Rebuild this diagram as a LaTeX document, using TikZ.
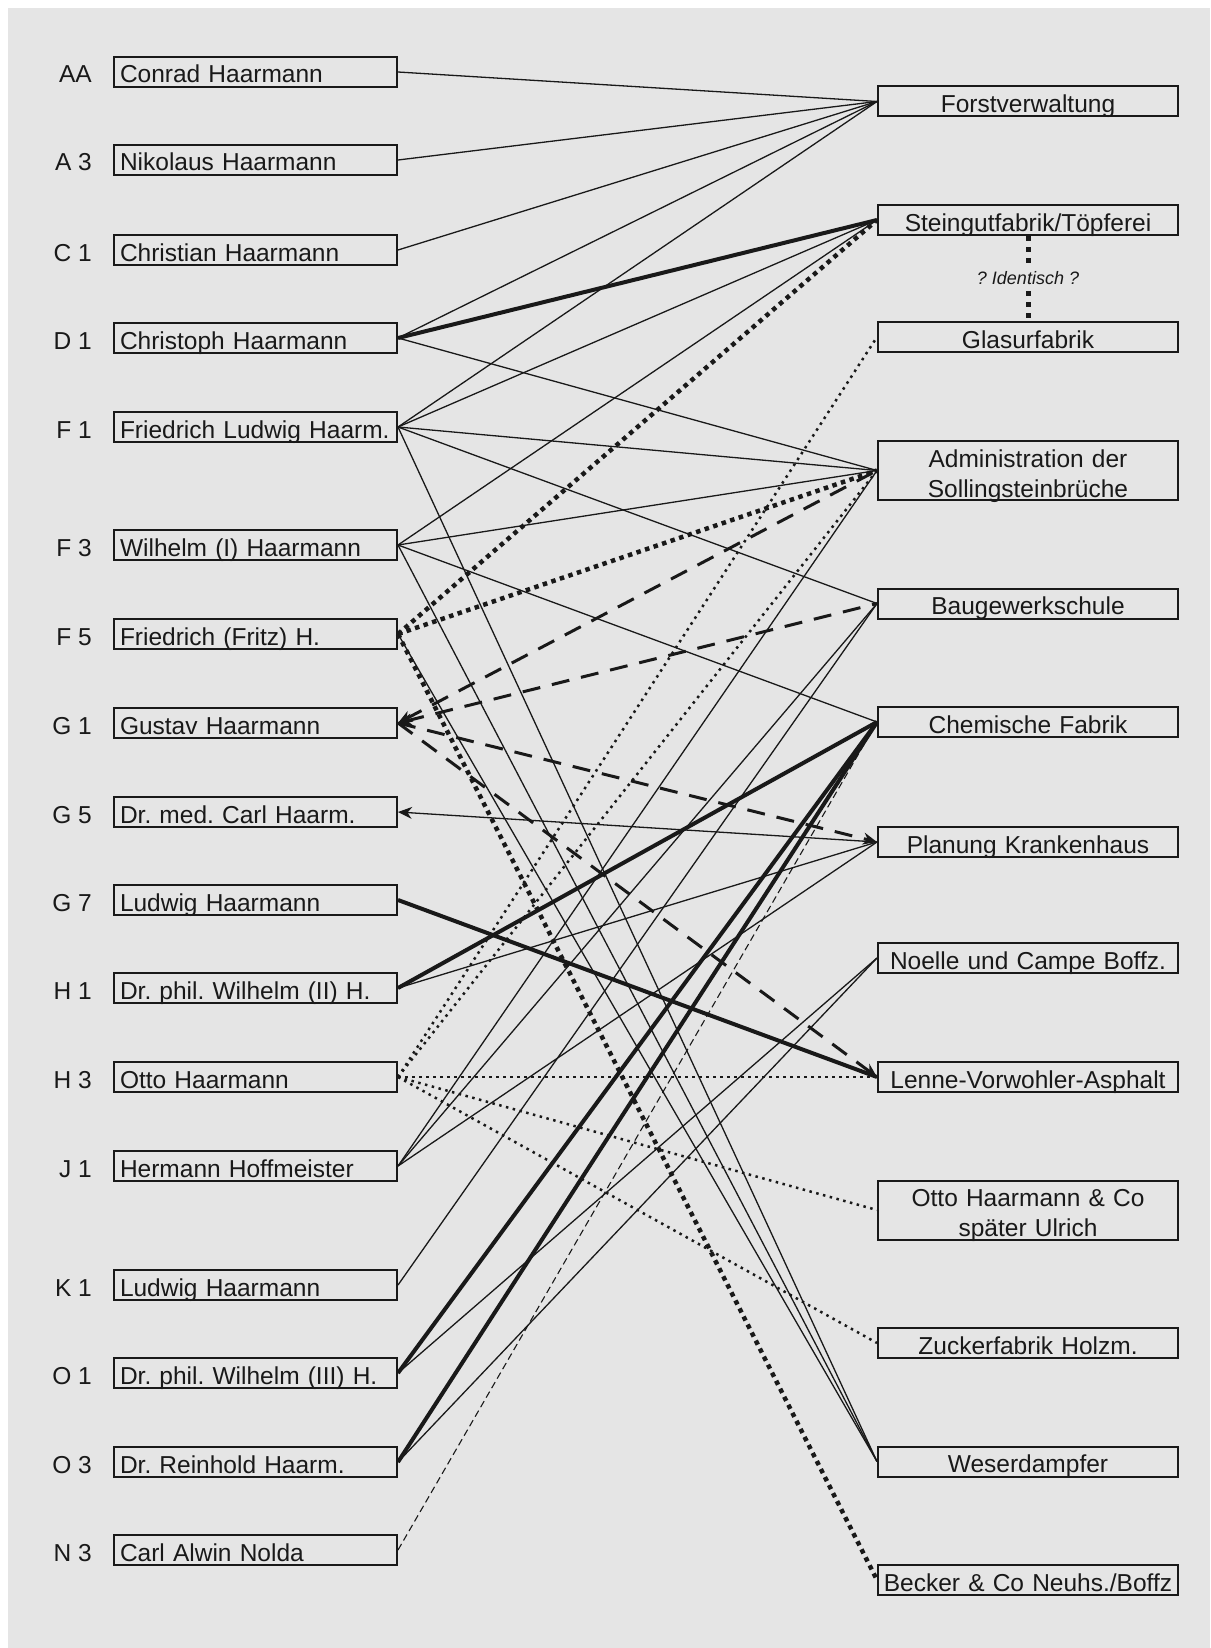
\documentclass[tikz,border=0pt]{standalone}
\usepackage{fontspec}
\setmainfont{Liberation Sans}
\frenchspacing
\usetikzlibrary{positioning,arrows.meta}
\definecolor{paper}{gray}{0.9}
\definecolor{ink}{gray}{0.1}
\tikzset{
  person/.style  = {rectangle, draw=ink, line width=2pt, text=ink,
                    text width=271pt, align=left, inner xsep=6pt, inner ysep=2pt,
                    text height=24pt, text depth=2pt, anchor=west,
                    font=\fontsize{24.5}{30}\selectfont},
  firm/.style    = {rectangle, draw=ink, line width=2pt, text=ink,
                    text width=292pt, align=center, inner xsep=4pt, inner ysep=2pt,
                    text height=24pt, text depth=2pt, anchor=west,
                    font=\fontsize{24.5}{30}\selectfont},
  twoline/.style = {text depth=31pt},
  code/.style    = {text=ink, inner sep=0pt, anchor=base east,
                    font=\fontsize{24.5}{30}\selectfont},
  idtag/.style   = {fill=paper, text=ink, inner sep=3pt,
                    font=\fontsize{18}{20}\selectfont\itshape},
  link/.style    = {draw=ink, line width=1.3pt},
  strong/.style  = {draw=ink, line width=4pt},
  fatdots/.style = {draw=ink, line width=4.5pt, dash pattern=on 4.5pt off 4.5pt},
  dots/.style    = {draw=ink, line width=2.5pt, dash pattern=on 2.5pt off 4.5pt},
  iddots/.style  = {draw=ink, line width=5pt, dash pattern=on 5pt off 6pt},
  dashlink/.style= {draw=ink, line width=3pt, dash pattern=on 18pt off 12pt},
  hairdash/.style= {draw=ink, line width=1.1pt, dash pattern=on 7pt off 4pt},
  tip/.style     = {-{Stealth[length=14pt,width=12pt]}},
  tipback/.style = {{Stealth[length=14pt,width=12pt]}-},
}

\begin{document}
\begin{tikzpicture}[x=1pt, y=-1pt]
  \useasboundingbox (0,0) rectangle (1210,1648);
  \fill[white] (0,0) rectangle (1210,1648);
  \fill[paper] (8,8) rectangle (1210,1648);

  % persons
  \node[person] (conrad)      at (113,72)   {Conrad Haarmann};
  \node[person] (nikolaus)    at (113,160)  {Nikolaus Haarmann};
  \node[person] (christian)   at (113,250)  {Christian Haarmann};
  \node[person] (christoph)   at (113,338)  {Christoph Haarmann};
  \node[person] (fludwig)     at (113,427)  {Friedrich Ludwig Haarm.};
  \node[person] (wilhelmI)    at (113,545)  {Wilhelm (I) Haarmann};
  \node[person] (fritz)       at (113,634)  {Friedrich (Fritz) H.};
  \node[person] (gustav)      at (113,723)  {Gustav Haarmann};
  \node[person] (carl)        at (113,812)  {Dr. med. Carl Haarm.};
  \node[person] (ludwigG)     at (113,900)  {Ludwig Haarmann};
  \node[person] (wilhelmII)   at (113,988)  {Dr. phil. Wilhelm (II) H.};
  \node[person] (otto)        at (113,1077) {Otto Haarmann};
  \node[person] (hoffmeister) at (113,1166) {Hermann Hoffmeister};
  \node[person] (ludwigK)     at (113,1285) {Ludwig Haarmann};
  \node[person] (wilhelmIII)  at (113,1373) {Dr. phil. Wilhelm (III) H.};
  \node[person] (reinhold)    at (113,1462) {Dr. Reinhold Haarm.};
  \node[person] (nolda)       at (113,1550) {Carl Alwin Nolda};

  \node[code] at ([xshift=-21pt]conrad.base west)      {AA};
  \node[code] at ([xshift=-21pt]nikolaus.base west)    {A 3};
  \node[code] at ([xshift=-21pt]christian.base west)   {C 1};
  \node[code] at ([xshift=-21pt]christoph.base west)   {D 1};
  \node[code] at ([xshift=-21pt]fludwig.base west)     {F 1};
  \node[code] at ([xshift=-21pt]wilhelmI.base west)    {F 3};
  \node[code] at ([xshift=-21pt]fritz.base west)       {F 5};
  \node[code] at ([xshift=-21pt]gustav.base west)      {G 1};
  \node[code] at ([xshift=-21pt]carl.base west)        {G 5};
  \node[code] at ([xshift=-21pt]ludwigG.base west)     {G 7};
  \node[code] at ([xshift=-21pt]wilhelmII.base west)   {H 1};
  \node[code] at ([xshift=-21pt]otto.base west)        {H 3};
  \node[code] at ([xshift=-21pt]hoffmeister.base west) {J 1};
  \node[code] at ([xshift=-21pt]ludwigK.base west)     {K 1};
  \node[code] at ([xshift=-21pt]wilhelmIII.base west)  {O 1};
  \node[code] at ([xshift=-21pt]reinhold.base west)    {O 3};
  \node[code] at ([xshift=-21pt]nolda.base west)       {N 3};

  % firms
  \node[firm] (forst)    at (877,101.5)  {Forstverwaltung};
  \node[firm] (steingut) at (877,220)    {Steingutfabrik/Töpferei};
  \node[firm] (glasur)   at (877,337)    {Glasurfabrik};
  \node[firm,twoline] (admin) at (877,470.5) {Administration der\\Sollingsteinbrüche};
  \node[firm] (bau)      at (877,603.5)  {Baugewerkschule};
  \node[firm] (chemie)   at (877,722)    {Chemische Fabrik};
  \node[firm] (planung)  at (877,842)    {Planung Krankenhaus};
  \node[firm] (noelle)   at (877,958)    {Noelle und Campe Boffz.};
  \node[firm] (lenne)    at (877,1077)   {Lenne-Vorwohler-Asphalt};
  \node[firm,twoline] (ottoco) at (877,1210) {Otto Haarmann \& Co\\später Ulrich};
  \node[firm] (zucker)   at (877,1343)   {Zuckerfabrik Holzm.};
  \node[firm] (weser)    at (877,1461.5) {Weserdampfer};
  \node[firm] (becker)   at (877,1580)   {Becker \& Co Neuhs./Boffz};

  \draw[iddots] (steingut.south) -- node[idtag] {? Identisch ?} (glasur.north);

  % plain links
  \draw[link] (conrad.east) -- (forst.west);
  \draw[link] (nikolaus.east) -- (forst.west);
  \draw[link] (christian.east) -- (forst.west);
  \draw[link] (christoph.east) -- (forst.west);
  \draw[link] (christoph.east) -- (admin.west);
  \draw[link] (fludwig.east) -- (forst.west);
  \draw[link] (fludwig.east) -- (steingut.west);
  \draw[link] (fludwig.east) -- (admin.west);
  \draw[link] (fludwig.east) -- (bau.west);
  \draw[link] (fludwig.east) -- (weser.west);
  \draw[link] (wilhelmI.east) -- (steingut.west);
  \draw[link] (wilhelmI.east) -- (admin.west);
  \draw[link] (wilhelmI.east) -- (chemie.west);
  \draw[link] (wilhelmI.east) -- (weser.west);
  \draw[link] (fritz.east) -- (weser.west);
  \draw[link,tipback] (carl.east) -- (planung.west);
  \draw[link] (wilhelmII.east) -- (planung.west);
  \draw[link] (hoffmeister.east) -- (admin.west);
  \draw[link] (hoffmeister.east) -- (bau.west);
  \draw[link] (hoffmeister.east) -- (planung.west);
  \draw[link] (ludwigK.east) -- (bau.west);
  \draw[link] (wilhelmIII.east) -- (noelle.west);
  \draw[link] (reinhold.east) -- (noelle.west);
  \draw[hairdash] (nolda.east) -- (chemie.west);

  % strong links
  \draw[strong] (christoph.east) -- (steingut.west);
  \draw[strong] (ludwigG.east) -- (lenne.west);
  \draw[strong] (wilhelmII.east) -- (chemie.west);
  \draw[strong] (wilhelmIII.east) -- (chemie.west);
  \draw[strong] (reinhold.east) -- (chemie.west);

  % dotted links
  \draw[fatdots] (fritz.east) -- (steingut.west);
  \draw[fatdots] (fritz.east) -- (admin.west);
  \draw[fatdots] (fritz.east) -- (becker.west);
  \draw[dots] (otto.east) -- (glasur.west);
  \draw[dots] (otto.east) -- (admin.west);
  \draw[dots] (otto.east) -- (lenne.west);
  \draw[dots] (otto.east) -- (ottoco.west);
  \draw[dots] (otto.east) -- (zucker.west);

  % dashed links
  \draw[dashlink,tipback] (gustav.east) -- (admin.west);
  \draw[dashlink,tipback] (gustav.east) -- (bau.west);
  \draw[dashlink,tip] (gustav.east) -- (planung.west);
  \draw[dashlink,tip] (gustav.east) -- (lenne.west);
\end{tikzpicture}
\end{document}
